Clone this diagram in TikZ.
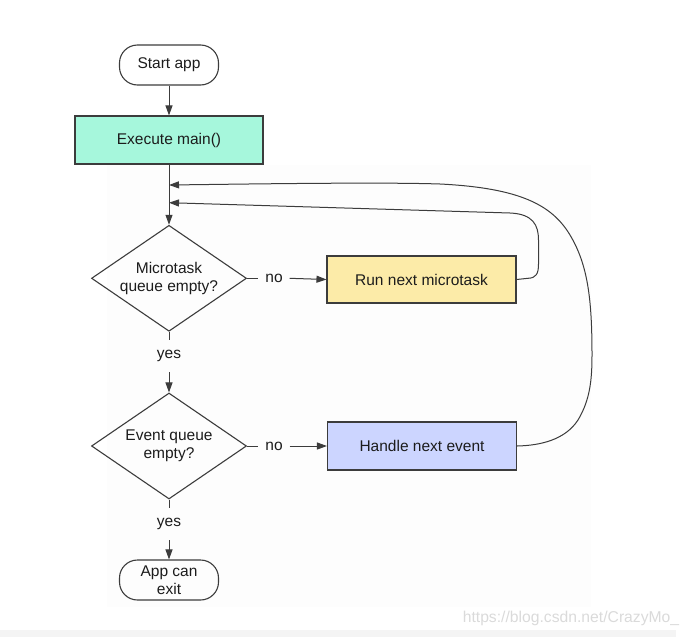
\documentclass[tikz,border=0pt]{standalone}
\usepackage{fontspec}
\setmainfont{Liberation Sans}
\usetikzlibrary{shapes.geometric,arrows.meta}
\definecolor{mint}{RGB}{166,247,220}
\definecolor{butter}{RGB}{252,235,168}
\definecolor{lav}{RGB}{204,213,255}
\definecolor{edge}{RGB}{60,60,60}
\definecolor{ink}{RGB}{28,28,28}
\definecolor{panel}{RGB}{253,253,253}
\definecolor{band}{RGB}{244,244,244}
\definecolor{wmark}{RGB}{218,218,218}
\tikzset{
  base/.style={draw=edge, line width=1.1pt, text=ink, align=center,
    font=\fontsize{15.5}{17.6}\selectfont, inner sep=0pt},
  term/.style={base, rounded corners=18pt, minimum width=99pt, minimum height=40pt},
  proc/.style={base, rectangle, minimum width=189pt, minimum height=48pt},
  dec/.style={base, diamond, aspect=1.5, minimum width=155pt, minimum height=106pt},
  lbl/.style={text=ink, font=\fontsize{15.5}{17.6}\selectfont, inner sep=0pt},
  conn/.style={draw=edge, line width=1pt},
  arr/.style={conn, -{Triangle[length=10pt,width=7pt]}},
}
\begin{document}
\begin{tikzpicture}[x=1pt,y=-1pt]
\useasboundingbox (0,0) rectangle (690,637);
\fill[panel] (107,165) rectangle (591,607);
\fill[band] (0,630) rectangle (676,637);

\node[term] (start) at (169,65) {Start app};
\node[proc, fill=mint, minimum width=188pt] (exec) at (169,140) {Execute main()};
\node[dec] (d1) at (169,278.3) {Microtask\\queue empty?};
\node[dec] (d2) at (169,446) {Event queue\\empty?};
\node[proc, fill=butter, minimum height=47pt] (run) at (421.5,279.5) {Run next microtask};
\node[proc, fill=lav] (handle) at (422,446) {Handle next event};
\node[term] (exit) at (169,580) {App can\\exit};

\node[lbl, minimum width=31pt] (no1) at (274,278.3) {no};
\node[lbl, minimum width=31pt] (no2) at (274,446) {no};
\node[lbl, minimum height=31.7pt] (yes1) at (169,356) {yes};
\node[lbl, minimum height=32pt] (yes2) at (169,524) {yes};

\coordinate (m2) at (169,185);
\coordinate (m1) at (169,202.7);

\draw[arr] (start) -- (exec);
\draw[arr] (exec.south) -- (d1.north);
\draw[conn] (d1.east) -- (no1.west);
\draw[arr] (no1.east) -- (run.west);
\draw[conn] (d1.south) -- (yes1.north);
\draw[arr] (yes1.south) -- (d2.north);
\draw[conn] (d2.east) -- (no2.west);
\draw[arr] (no2.east) -- (handle.west);
\draw[conn] (d2.south) -- (yes2.north);
\draw[arr] (yes2.south) -- (exit.north);

\draw[arr] (run.east) -- (528,278.3)
  .. controls (536,278) and (538.5,274) .. (538.5,264)
  -- (538.5,240)
  .. controls (538.5,225) and (533,214) .. (510,213)
  -- (m1);

\draw[arr] (handle.east)
  .. controls (540,445.5) and (565,440) .. (578,420)
  .. controls (590,400) and (592,380) .. (592,355)
  .. controls (592,300) and (588,265) .. (570,235)
  .. controls (552,205) and (520,188) .. (440,184)
  .. controls (380,182) and (250,184) .. (m2);

\node[text=wmark, font=\fontsize{15.7}{16}\selectfont, inner sep=0pt] (wm) at (571,618) {https://blog.csdn.net/CrazyMo\_};
\end{tikzpicture}
\end{document}
